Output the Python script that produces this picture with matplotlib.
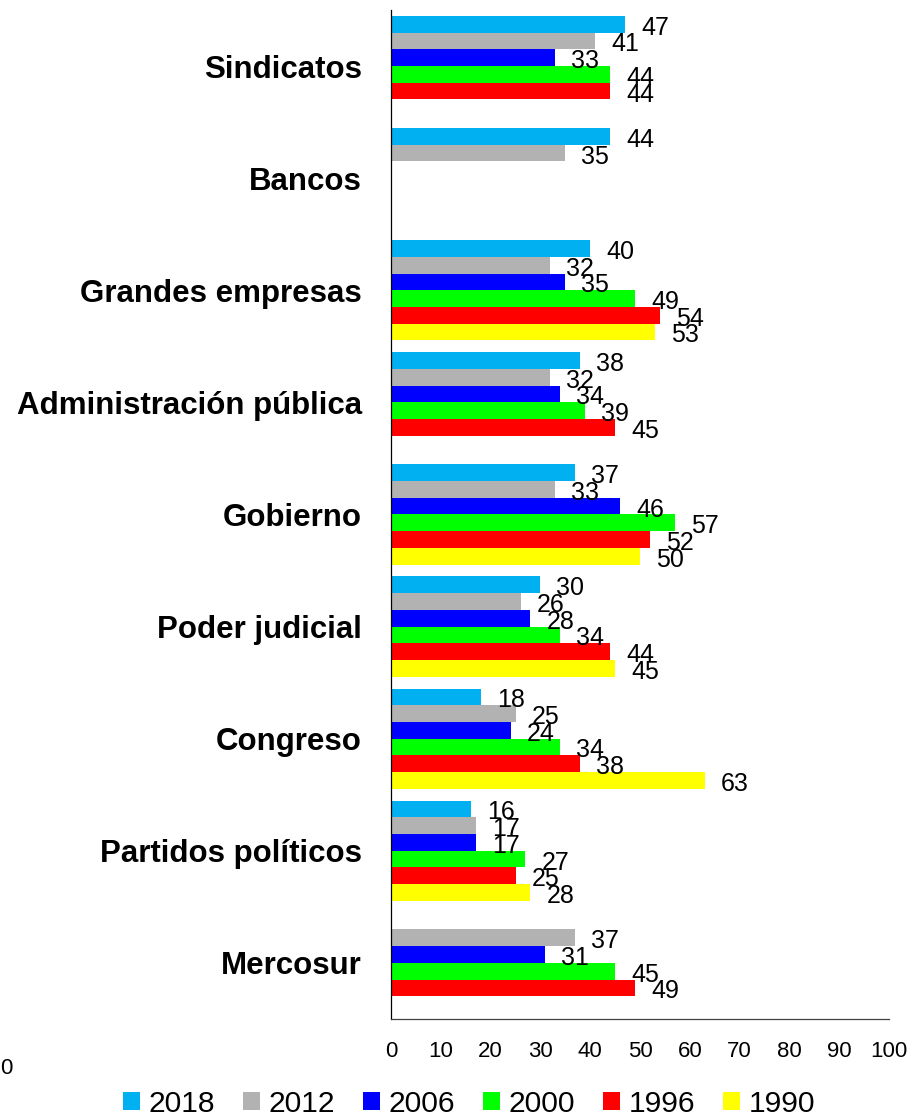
import matplotlib.pyplot as plt
import numpy as np
from matplotlib.patches import Patch

plt.rcParams['font.family'] = ['Liberation Sans', 'DejaVu Sans']

categorias = ["Sindicatos", "Bancos", "Grandes empresas", "Administración pública",
              "Gobierno", "Poder judicial", "Congreso", "Partidos políticos", "Mercosur"]
anios = ["2018", "2012", "2006", "2000", "1996", "1990"]
colores = ["#00B0F0", "#B2B2B2", "#0000FF", "#00FF00", "#FF0000", "#FFFF00"]

nan = np.nan
v2018 = [47, 44, 40, 38, 37, 30, 18, 16, nan]
v2012 = [41, 35, 32, 32, 33, 26, 25, 17, 37]
v2006 = [33, nan, 35, 34, 46, 28, 24, 17, 31]
v2000 = [44, nan, 49, 39, 57, 34, 34, 27, 45]
v1996 = [44, nan, 54, 45, 52, 44, 38, 25, 49]
v1990 = [nan, nan, 53, nan, 50, 45, 63, 28, nan]
series = [v2018, v2012, v2006, v2000, v1996, v1990]

fig = plt.figure(figsize=(9.13, 11.18), dpi=100)
ax = fig.add_axes([0.4283, 0.0886, 0.5454, 0.9025])

y = np.arange(len(categorias))
h = 0.149
for i, (vals, col) in enumerate(zip(series, colores)):
    pos = y + (i - 2.5) * h
    vals = np.array(vals, dtype=float)
    ax.barh(pos, vals, height=h, color=col, linewidth=0)
    for p, v in zip(pos, vals):
        if np.isnan(v):
            continue
        ax.annotate(f"{v:.0f}", (v, p), xytext=(11.5, -2.5), textcoords="offset points",
                    ha="left", va="center", fontsize=18)

ax.set_xlim(0, 100)
ax.set_ylim(len(categorias) - 0.5, -0.5)
ax.set_xticks(np.arange(0, 101, 10))
ax.set_yticks(y)
ax.set_yticklabels(categorias, fontsize=22.5, fontweight="bold")
ax.tick_params(axis="x", length=0, pad=16, labelsize=16)
ax.tick_params(axis="y", length=0, pad=21)
for s in ["top", "right"]:
    ax.spines[s].set_visible(False)
ax.spines["left"].set_color("black")
ax.spines["bottom"].set_color("#404040")
ax.spines["left"].set_linewidth(0.9)
ax.spines["bottom"].set_linewidth(0.9)

# etiqueta suelta abajo a la izquierda
fig.text(0.0, (1118 - 1068) / 1118, "0", fontsize=16, ha="left", va="center")

handles = [Patch(facecolor=c, edgecolor="none") for c in colores]
fig.legend(handles, anios, loc="center", bbox_to_anchor=(0.514, 0.0125), ncol=6,
           frameon=False, fontsize=21.6, handlelength=0.55, handleheight=0.55,
           handletextpad=0.3, columnspacing=0.93, borderaxespad=0, borderpad=0)

fig.savefig("out.png", dpi=100)
